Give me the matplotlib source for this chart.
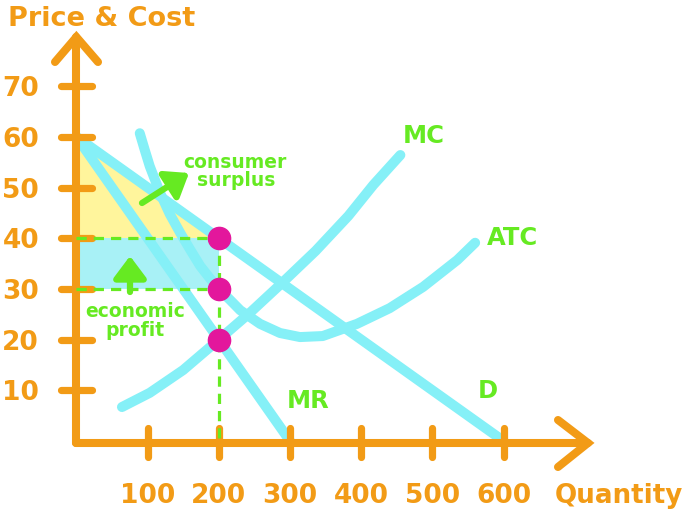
import matplotlib
matplotlib.use("Agg")
import matplotlib.pyplot as plt

# ---------------- data ----------------
x_ticks = [100, 200, 300, 400, 500, 600]
y_ticks = [10, 20, 30, 40, 50, 60, 70]

demand_q = [0, 600]
demand_p = [60, 0]
mr_q = [0, 300]
mr_p = [60, 0]
mc_q = [64, 103, 150, 200, 243, 289, 336, 382, 417, 455]
mc_p = [6.7, 9.5, 14.0, 20.0, 25.2, 31.2, 37.5, 44.4, 50.5, 56.4]
atc_q = [89, 96, 103, 117, 131, 146, 160, 174, 188, 200, 216, 230, 258, 286, 314,
         346, 394, 440, 487, 535, 560]
atc_p = [60.7, 57.4, 54.2, 49.1, 44.8, 41.0, 37.7, 34.5, 32.0, 30.0, 27.8, 25.8, 23.1,
         21.3, 20.5, 20.7, 23.1, 26.2, 30.4, 35.7, 39.1]

q_star = 200
price = 40
avg_cost = 30
mr_mc = 20

# ---------------- styles ----------------
ORANGE = "#F29B16"
CYAN = "#85F0F7"
RECT = "#A8F1F6"
YELLOW = "#FFF59C"
GREEN = "#66EA22"
MAGENTA = "#E3179C"

W, H = 697, 520
fig = plt.figure(figsize=(W / 100, H / 100), dpi=100)
ax = fig.add_axes([0, 0, 1, 1])
ax.axis("off")

# pixel mapping helpers
X0, SX = 76.4, 0.712
Y0, SY = 441.0, 5.07


def q_of(px):
    return (px - X0) / SX


def p_of(py):
    return (Y0 - py) / SY


ax.set_xlim(q_of(0), q_of(W))
ax.set_ylim(p_of(H), p_of(0))

plt.rcParams["font.family"] = ["DejaVu Sans"]

# fills
ax.fill([0, q_star, 0], [demand_p[0], price, price], color=YELLOW, lw=0, zorder=1)
ax.fill([0, q_star, q_star, 0], [avg_cost, avg_cost, price, price], color=RECT, lw=0, zorder=1)

# curves
for qq, pp in [(demand_q, demand_p), (mr_q, mr_p), (mc_q, mc_p), (atc_q, atc_p)]:
    ax.plot(qq, pp, color=CYAN, lw=7.2, solid_capstyle="round", solid_joinstyle="round", zorder=2)

# axes
axis_y = p_of(443)
ax.plot([0, 0], [axis_y, p_of(37)], color=ORANGE, lw=5.8, solid_capstyle="round", zorder=3)
ax.plot([0, q_of(588)], [axis_y, axis_y], color=ORANGE, lw=5.8, solid_capstyle="round", zorder=3)
ax.plot([q_of(55), 0, q_of(98)], [p_of(62), p_of(37), p_of(62)], color=ORANGE, lw=5.8,
        solid_capstyle="round", solid_joinstyle="miter", zorder=3)
ax.plot([q_of(558), q_of(588), q_of(558)], [p_of(420), axis_y, p_of(467)], color=ORANGE, lw=5.8,
        solid_capstyle="round", solid_joinstyle="miter", zorder=3)
for t in y_ticks:
    ax.plot([q_of(61), q_of(92)], [t, t], color=ORANGE, lw=5.2, solid_capstyle="round", zorder=3)
    ax.text(q_of(39), t - 10 / SY, str(t), color=ORANGE, fontsize=19, fontweight="bold",
            ha="right", va="baseline")
for t in x_ticks:
    ax.plot([t, t], [p_of(428), p_of(457)], color=ORANGE, lw=5.2, solid_capstyle="round", zorder=3)
    ax.text(t, p_of(503), str(t), color=ORANGE, fontsize=19, fontweight="bold",
            ha="center", va="baseline")

ax.text(q_of(8), p_of(26), "Price & Cost", color=ORANGE, fontsize=19.5, fontweight="bold",
        ha="left", va="baseline")
ax.text(q_of(555), p_of(503), "Quantity", color=ORANGE, fontsize=18.8, fontweight="bold",
        ha="left", va="baseline")

# dashed guides
dash = dict(color=GREEN, lw=2.3, linestyle=(0, (3.2, 2.2)), zorder=4)
ax.plot([0, q_star], [price, price], **dash)
ax.plot([0, q_star], [avg_cost, avg_cost], **dash)
ax.plot([q_star, q_star], [price, axis_y], **dash)

# dots
ax.plot([q_star] * 3, [price, avg_cost, mr_mc], "o", color=MAGENTA, ms=16, mec=MAGENTA, zorder=5)

# curve labels
lab = dict(color=GREEN, fontsize=17.5, fontweight="bold", va="baseline", ha="left")
ax.text(q_of(403), p_of(143), "MC", **lab)
ax.text(q_of(487), p_of(245), "ATC", **lab)
ax.text(q_of(478), p_of(398), "D", **lab)
ax.text(q_of(287), p_of(408), "MR", **lab)

small = dict(color=GREEN, fontsize=13.5, fontweight="bold", va="baseline", ha="center")
ax.text(q_of(235), p_of(168), "consumer", **small)
ax.text(q_of(236), p_of(186), "surplus", **small)
ax.text(q_of(135), p_of(317), "economic", **small)
ax.text(q_of(135), p_of(336), "profit", **small)

arrow = dict(arrowstyle="-|>,head_length=0.6,head_width=0.45", color=GREEN, lw=4.5,
             mutation_scale=22, shrinkA=0, shrinkB=0)
ax.annotate("", xy=(q_of(189), p_of(173)), xytext=(q_of(142), p_of(203)), arrowprops=arrow, zorder=6)
ax.annotate("", xy=(q_of(130), p_of(256)), xytext=(q_of(130), p_of(292)), arrowprops=arrow, zorder=6)

fig.savefig("out.png", dpi=100)
